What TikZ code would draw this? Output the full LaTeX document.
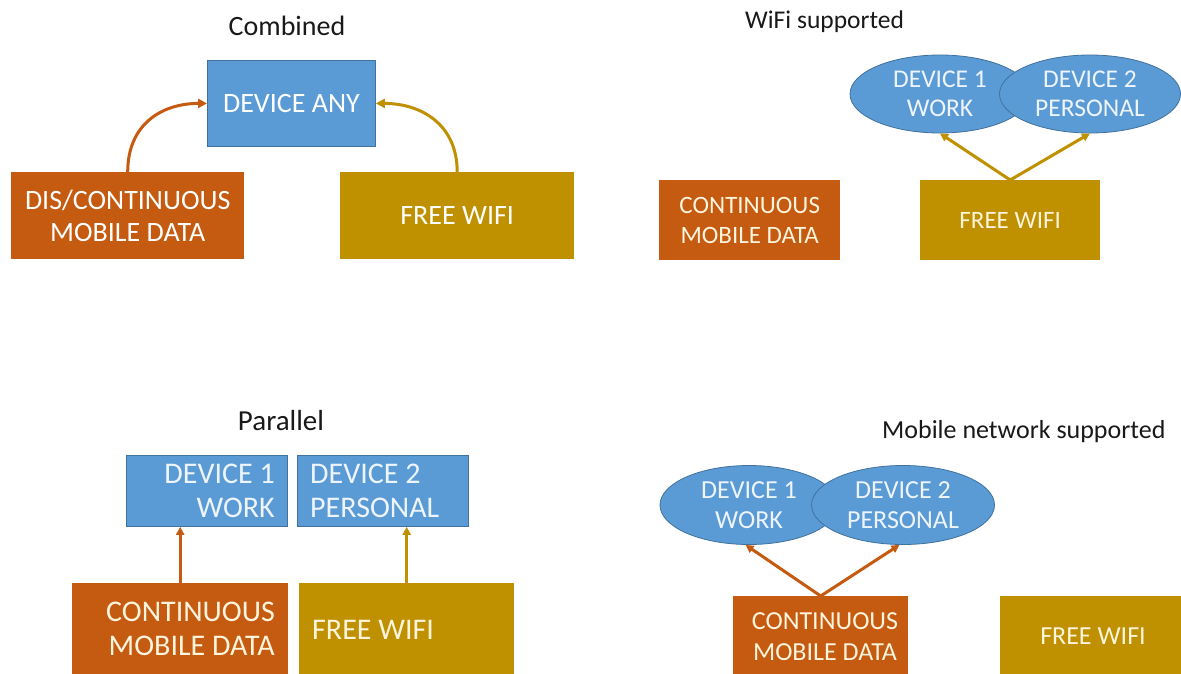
\documentclass[tikz,border=0pt]{standalone}
\usepackage{fontspec}
\setmainfont{Carlito}
\usetikzlibrary{arrows.meta,shapes.geometric}
\definecolor{cblue}{HTML}{5B9BD5}
\definecolor{cblueb}{HTML}{41719C}
\definecolor{corange}{HTML}{C55A11}
\definecolor{cgold}{HTML}{BF9000}
\definecolor{cream}{HTML}{FFF4DC}
\definecolor{paleblue}{HTML}{EEF4FB}
\tikzset{
  box/.style={rectangle, inner sep=0pt, anchor=north west},
  bluebox/.style={box, fill=cblue, draw=cblueb, line width=0.8pt},
  orangebox/.style={box, fill=corange},
  goldbox/.style={box, fill=cgold},
  ell/.style={ellipse, fill=cblue, draw=cblueb, line width=0.8pt, inner sep=0pt},
  lbl/.style={inner sep=0pt, align=center},
  title/.style={inner sep=0pt, text=black!90},
  conn/.style={line width=3pt, -{Triangle[length=9pt,width=9pt]}},
  connthin/.style={line width=3pt, -{Triangle[length=8pt,width=8pt]}}
}
\begin{document}
\begin{tikzpicture}[x=1pt,y=-1pt]
\useasboundingbox (0,0) rectangle (1181,673);
\fill[white] (0,0) rectangle (1181,673);

% ---------- Panel 1: Combined ----------
\node[title, font=\fontsize{28}{33}\selectfont] (t1) at (287,26) {Combined};
\node[bluebox, minimum width=168pt, minimum height=86pt] (dev) at (207,60) {};
\node[lbl, text=white, font=\fontsize{28}{33}\selectfont] (devl) at (dev.center) {DEVICE ANY};
\node[orangebox, minimum width=233pt, minimum height=87pt] (c1) at (11,172) {};
\node[lbl, text=white, font=\fontsize{28}{32}\selectfont] (c1l) at (c1.center) {DIS/CONTINUOUS\\MOBILE DATA};
\node[goldbox, minimum width=234pt, minimum height=87pt] (w1) at (340,172) {};
\node[lbl, text=white, font=\fontsize{28}{33}\selectfont] (w1l) at (w1.center) {FREE WIFI};
\draw[conn, corange] (c1.north) .. controls +(0,-48) and +(-45,0) .. (dev.west);
\draw[conn, cgold] (w1.north) .. controls +(0,-48) and +(45,0) .. (dev.east);

% ---------- Panel 2: WiFi supported ----------
\node[title, anchor=west, font=\fontsize{25.5}{30}\selectfont] (t2) at (745,22) {WiFi supported};
\node[ell, minimum width=180pt, minimum height=78pt] (e1) at (940,94) {};
\node[ell, minimum width=181pt, minimum height=78pt] (e2) at (1090,94) {};
\node[lbl, text=paleblue, font=\fontsize{25.5}{29}\selectfont] (e1l) at (e1.center) {DEVICE 1\\WORK};
\node[lbl, text=paleblue, font=\fontsize{25.5}{29}\selectfont] (e2l) at (e2.center) {DEVICE 2\\PERSONAL};
\node[orangebox, minimum width=181pt, minimum height=80pt] (c2) at (659,180) {};
\node[lbl, text=cream, font=\fontsize{25}{30}\selectfont] (c2l) at (c2.center) {CONTINUOUS\\MOBILE DATA};
\node[goldbox, minimum width=180pt, minimum height=80pt] (w2) at (920,180) {};
\node[lbl, text=cream, font=\fontsize{25}{30}\selectfont] (w2l) at (w2.center) {FREE WIFI};
\draw[connthin, cgold] (w2.north) -- (e1.south);
\draw[connthin, cgold] (w2.north) -- (e2.south);

% ---------- Panel 3: Parallel ----------
\node[title, font=\fontsize{29}{34}\selectfont] (t3) at (281,421) {Parallel};
\node[bluebox, minimum width=161pt, minimum height=71pt] (d1) at (126,455) {};
\node[lbl, anchor=east, align=right, text=paleblue, font=\fontsize{30}{34}\selectfont] (d1l) at (275,491) {DEVICE 1\\WORK};
\node[bluebox, minimum width=171pt, minimum height=71pt] (d2) at (297,455) {};
\node[lbl, anchor=west, align=left, text=paleblue, font=\fontsize{30}{34}\selectfont] (d2l) at (310,491) {DEVICE 2\\PERSONAL};
\node[orangebox, minimum width=216pt, minimum height=92pt] (c3) at (72,583) {};
\node[lbl, anchor=east, align=right, text=cream, font=\fontsize{30}{34}\selectfont] (c3l) at (275,629) {CONTINUOUS\\MOBILE DATA};
\node[goldbox, minimum width=215pt, minimum height=92pt] (w3) at (299,583) {};
\node[lbl, anchor=west, text=cream, font=\fontsize{30}{34}\selectfont] (w3l) at (312,630) {FREE WIFI};
\draw[connthin, corange] (c3.north) -- (c3.north |- d1.south);
\draw[connthin, cgold] (w3.north) -- (w3.north |- d2.south);

% ---------- Panel 4: Mobile network supported ----------
\node[title, anchor=west, font=\fontsize{26}{31}\selectfont] (t4) at (882,432) {Mobile network supported};
\node[ell, minimum width=178pt, minimum height=79pt] (e3) at (749,505) {};
\node[ell, minimum width=183pt, minimum height=79pt] (e4) at (903,505) {};
\node[lbl, text=paleblue, font=\fontsize{26}{30}\selectfont] (e3l) at (e3.center) {DEVICE 1\\WORK};
\node[lbl, text=paleblue, font=\fontsize{26}{30}\selectfont] (e4l) at (e4.center) {DEVICE 2\\PERSONAL};
\node[orangebox, minimum width=175pt, minimum height=80pt] (c4) at (733,596) {};
\node[lbl, text=cream, font=\fontsize{26}{31}\selectfont] (c4l) at (825,637) {CONTINUOUS\\MOBILE DATA};
\node[goldbox, minimum width=181pt, minimum height=80pt] (w4) at (1000,596) {};
\node[lbl, text=cream, font=\fontsize{26}{31}\selectfont] (w4l) at (1093,636) {FREE WIFI};
\draw[connthin, corange] (c4.north) -- (e3.-95);
\draw[connthin, corange] (c4.north) -- (e4.-95);
\end{tikzpicture}
\end{document}
